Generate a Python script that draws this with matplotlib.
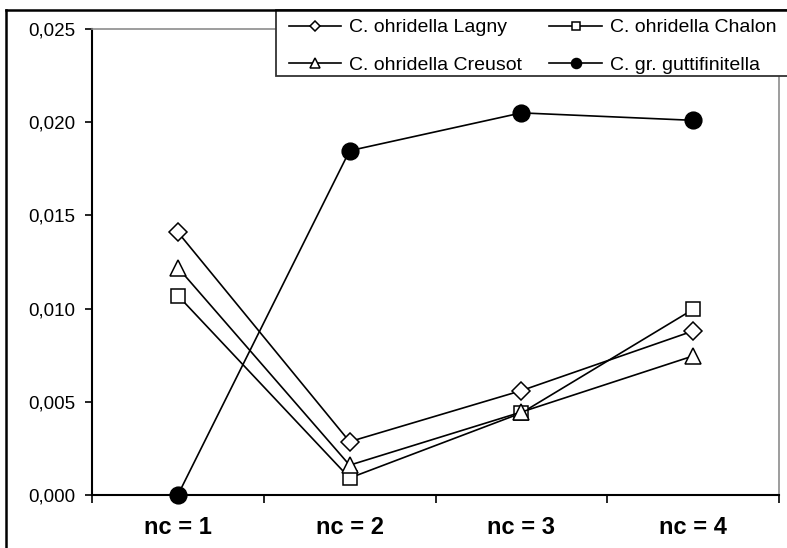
import matplotlib
matplotlib.use("Agg")
import matplotlib.pyplot as plt
from matplotlib.lines import Line2D
from matplotlib.patches import Rectangle
from matplotlib.ticker import FuncFormatter, FixedLocator

plt.rcParams['font.family'] = ['Liberation Sans', 'DejaVu Sans']

# data
categories = ["nc = 1", "nc = 2", "nc = 3", "nc = 4"]
lagny = [0.0141, 0.00286, 0.0056, 0.0088]
chalon = [0.0107, 0.00091, 0.0044, 0.00996]
creusot = [0.0122, 0.0016, 0.00445, 0.00746]
gutti = [0.0, 0.01847, 0.0205, 0.0201]
y_ticks = [0.0, 0.005, 0.010, 0.015, 0.020, 0.025]

W, H = 787, 548
fig = plt.figure(figsize=(W / 100, H / 100), dpi=100)
ax = fig.add_axes([92 / W, 1 - 495 / H, (779 - 92) / W, (495 - 29) / H])

x = list(range(len(categories)))
common = dict(color="black", lw=1.2, markeredgecolor="black", markeredgewidth=1.1, clip_on=False)
ax.plot(x, lagny, marker="D", ms=9, mfc="white", label="C. ohridella Lagny", **common)
ax.plot(x, chalon, marker="s", ms=10.5, mfc="white", label="C. ohridella Chalon", **common)
ax.plot(x, creusot, marker="^", ms=12, mfc="white", label="C. ohridella Creusot", **common)
ax.plot(x, gutti, marker="o", ms=12, mfc="black", label="C. gr. guttifinitella", **common)

ax.set_xlim(-0.5, len(categories) - 0.5)
ax.set_ylim(0, 0.025)
ax.set_yticks(y_ticks)
ax.yaxis.set_major_formatter(FuncFormatter(lambda v, p: f"{v:.3f}".replace(".", ",")))
ax.set_xticks(x)
ax.set_xticklabels(categories, fontsize=17, fontweight="bold")
ax.xaxis.set_minor_locator(FixedLocator([i - 0.5 for i in range(len(categories) + 1)]))
ax.tick_params(axis="x", which="major", length=0, pad=15)
ax.tick_params(axis="x", which="minor", length=6, width=1.2, direction="out")
ax.tick_params(axis="y", which="major", length=5, width=1.2, direction="out", labelsize=13.5, pad=7)

for side in ("left", "bottom"):
    ax.spines[side].set_color("black")
    ax.spines[side].set_linewidth(1.5)
for side in ("top", "right"):
    ax.spines[side].set_color("#8c8c8c")
    ax.spines[side].set_linewidth(1.2)

# legend box runs past the right edge of the picture, so draw it by hand
box = Rectangle((276 / W, 1 - 76 / H), 0.7, 66 / H, transform=fig.transFigure,
                facecolor="white", edgecolor="#333333", lw=1.3, zorder=5)
fig.add_artist(box)

# legend in the order of the reference (row-wise)
handles, labels = ax.get_legend_handles_labels()
order = [0, 2, 1, 3]
leg = fig.legend([handles[i] for i in order], [labels[i] for i in order],
                 ncol=2, loc="upper left", bbox_to_anchor=(283 / W, 1 - 13 / H),
                 fontsize=14, frameon=False, borderaxespad=0,
                 handlelength=2.7, handletextpad=0.4, columnspacing=1.4,
                 labelspacing=1.0, borderpad=0.3, markerscale=0.6)
leg.set_zorder(6)

# outer frame of the chart (top and left edges visible)
fig.add_artist(Line2D([6 / W, 6 / W], [0, 1 - 10 / H], transform=fig.transFigure, color="black", lw=1.8, zorder=7))
fig.add_artist(Line2D([6 / W, 1], [1 - 10 / H, 1 - 10 / H], transform=fig.transFigure, color="black", lw=1.8, zorder=7))

fig.savefig("out.png", dpi=100)
